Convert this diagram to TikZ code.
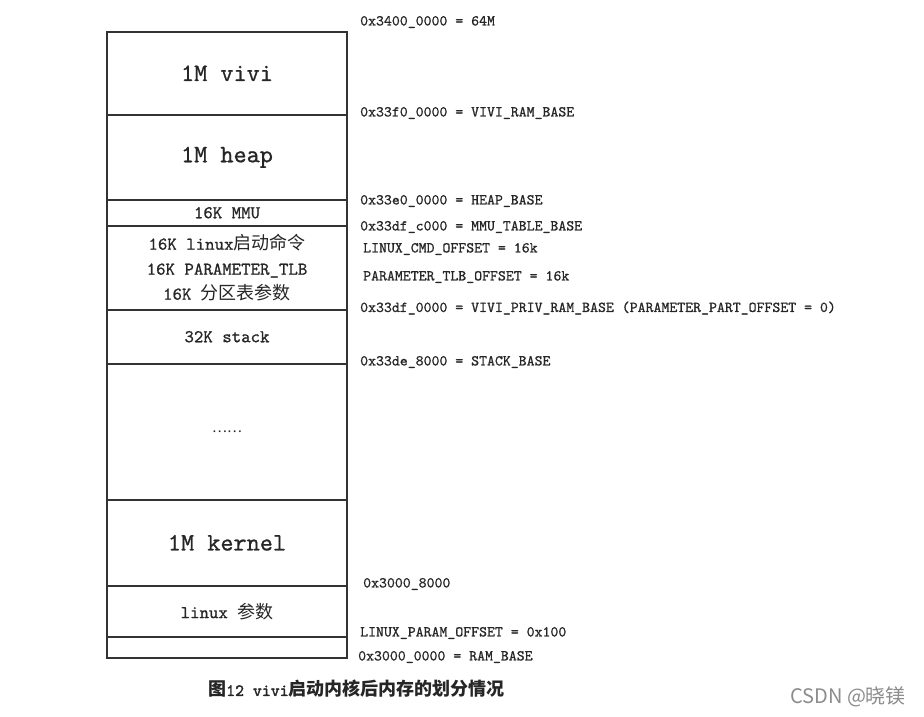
\documentclass[tikz,border=0pt]{standalone}
\usepackage{fontspec}
\newfontfamily\cjk{Noto Sans CJK SC}
\newfontfamily\mono[FakeBold=0.8]{lmmono10-regular.otf}
\newfontfamily\monob[FakeBold=2.2]{lmmono10-regular.otf}
\newcommand{\zh}[1]{{\cjk #1}}
\begin{document}
\begin{tikzpicture}[x=1pt,y=-1pt,
  region/.style={draw=black!80, line width=1.5pt, minimum width=240pt, inner sep=0pt, anchor=north, text=black!85},
  big/.style={font=\fontsize{25}{28}\selectfont\mono},
  mid/.style={font=\fontsize{18}{25}\selectfont\mono},
  lab/.style={anchor=west, inner sep=0pt, font=\fontsize{15.1}{17}\selectfont\mono, text=black!85}]
\useasboundingbox (0,0) rectangle (924,716);
\fill[white] (0,0) rectangle (924,716);
% memory regions
\node[region, big, minimum height=83pt] (vivi) at (227,31) {1M vivi};
\node[region, big, minimum height=85pt] (heap) at (227,114) {1M heap};
\node[region, mid, minimum height=26pt] (mmu) at (227,199) {16K MMU};
\node[region, mid, minimum height=84pt, align=center] (cmd) at (227,225) {16K linux\zh{启动命令}\\16K PARAMETER\_TLB\\16K \zh{分区表参数}};
\node[region, mid, minimum height=54pt] (stack) at (227,309) {32K stack};
\node[region, minimum height=136pt, font=\fontsize{14}{16}\selectfont] (dots) at (227,363) {\zh{……}};
\node[region, big, minimum height=86pt] (kernel) at (227,499) {1M kernel};
\node[region, mid, minimum height=51pt] (lparam) at (227,585) {linux \zh{参数}};
\node[region, minimum height=21pt] (low) at (227,636) {};
% address labels
\node[lab] (a1) at (360,22) {0x3400\_0000 = 64M};
\node[lab] (a2) at (360,113) {0x33f0\_0000 = VIVI\_RAM\_BASE};
\node[lab] (a3) at (360,201) {0x33e0\_0000 = HEAP\_BASE};
\node[lab] (a4) at (360,227) {0x33df\_c000 = MMU\_TABLE\_BASE};
\node[lab] (a5) at (363,249) {LINUX\_CMD\_OFFSET = 16k};
\node[lab] (a6) at (363,277) {PARAMETER\_TLB\_OFFSET = 16k};
\node[lab] (a7) at (360,308) {0x33df\_0000 = VIVI\_PRIV\_RAM\_BASE (PARAMETER\_PART\_OFFSET = 0)};
\node[lab] (a8) at (360,362) {0x33de\_8000 = STACK\_BASE};
\node[lab] (a9) at (363,584) {0x3000\_8000};
\node[lab] (a10) at (360,633) {LINUX\_PARAM\_OFFSET = 0x100};
\node[lab] (a11) at (358,657) {0x3000\_0000 = RAM\_BASE};
% caption
\node[anchor=west, inner sep=0pt, text=black!85] (cap) at (208,689)
  {{\cjk\bfseries\fontsize{18}{20}\selectfont 图}{\monob\fontsize{17}{20}\selectfont 12 vivi}{\cjk\bfseries\fontsize{18}{20}\selectfont 启动内核后内存的划分情况}};
% watermark
\node[anchor=west, inner sep=0pt, text=black!45, font=\cjk\fontsize{20}{22}\selectfont] (wm) at (790,697) {CSDN @晓镁};
\end{tikzpicture}
\end{document}
